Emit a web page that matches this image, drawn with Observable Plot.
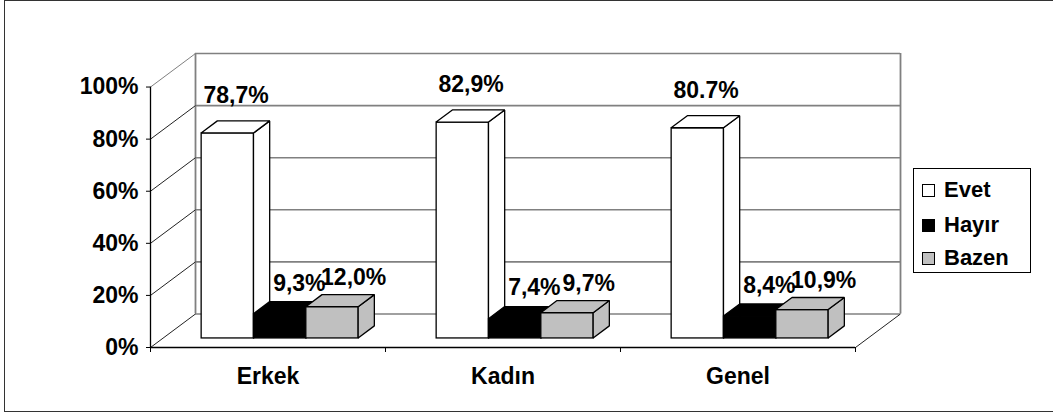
<!DOCTYPE html>
<html>
<head>
<meta charset="utf-8">
<script src="https://cdn.jsdelivr.net/npm/d3@7"></script>
<script src="https://cdn.jsdelivr.net/npm/@observablehq/plot@0.6"></script>
<style>
  html, body { margin: 0; padding: 0; background: #fff; }
  #wrap { position: relative; width: 1053px; height: 416px; overflow: hidden; font-family: "Liberation Sans", Arial, sans-serif; }
  #frame { position: absolute; left: 4px; top: 0px; width: 1100px; height: 410px; border: 1.5px solid #333; border-right: none; box-sizing: content-box; pointer-events: none; }
  #legend { position: absolute; left: 913px; top: 168px; width: 116px; height: 103px; border: 1px solid #000; background: #fff; }
  .row { position: absolute; left: 8px; height: 24px; display: flex; align-items: center; font-weight: bold; font-size: 22px; color: #000; }
  .sw { width: 11px; height: 11px; border: 1px solid #000; margin-right: 9px; }
</style>
</head>
<body>
<div id="wrap">
  <div id="chart"></div>
  <div id="frame"></div>
  <div id="legend"></div>
</div>
<script>
// ---- data ----
const categories = ["Erkek", "Kadın", "Genel"];
const seriesNames = ["Evet", "Hayır", "Bazen"];
const evet = [78.7, 82.9, 80.7];
const hayir = [9.3, 7.4, 8.4];
const bazen = [12.0, 9.7, 10.9];
const evetLabels = ["78,7%", "82,9%", "80.7%"];
const hayirLabels = ["9,3%", "7,4%", "8,4%"];
const bazenLabels = ["12,0%", "9,7%", "10,9%"];
const yTicks = [0, 20, 40, 60, 80, 100];

// ---- styling / geometry ----
const seriesValues = [evet, hayir, bazen];
const seriesLabels = [evetLabels, hayirLabels, bazenLabels];
const seriesFill = ["#ffffff", "#000000", "#c0c0c0"];
const labelDx = [-8, 3, 5];
const labelDy = [-26, -19, -17];

const DX = 0.1915, DY = 12.88;   // depth offset of back wall (x units, y units)
const F0 = 0.27, F1 = 0.63;      // bar front / back depth fraction
const BAR_W = 0.2227;
const GROUP_OFF = (1 - 3 * BAR_W) / 2;
const N = categories.length;

const marks = [];

// back wall gridlines
marks.push(Plot.ruleY(yTicks, {y: d => d + DY, x1: DX, x2: N + DX, stroke: "#808080", strokeWidth: 1.6}));
// back wall vertical edges
marks.push(Plot.ruleX([DX, N + DX], {y1: DY, y2: 100 + DY, stroke: "#808080", strokeWidth: 1.8}));
// left side wall diagonals
marks.push(Plot.link(yTicks, {x1: 0, y1: d => d, x2: DX, y2: d => d + DY, stroke: d => d === 100 ? "#808080" : "#222", strokeWidth: 1}));
// floor right diagonal
marks.push(Plot.link([N], {x1: d => d, y1: 0, x2: d => d + DX, y2: DY, stroke: "#222", strokeWidth: 1}));
// front floor edge & y axis line
marks.push(Plot.ruleY([0], {x1: 0, x2: N, stroke: "#000", strokeWidth: 1.3}));
marks.push(Plot.ruleX([0], {y1: 0, y2: 100, stroke: "#000", strokeWidth: 1.3}));

// bars: per series front / side / top, drawn left to right
seriesValues.forEach((vals, j) => {
  const fronts = [], sides = [], tops = [];
  vals.forEach((v, i) => {
    const x0 = i + GROUP_OFF + j * BAR_W, x1 = x0 + BAR_W, id = i;
    fronts.push({x1: x0 + F0 * DX, x2: x1 + F0 * DX, y1: F0 * DY, y2: v + F0 * DY});
    sides.push({id, x: x1 + F0 * DX, y1: F0 * DY, y2: v + F0 * DY});
    sides.push({id, x: x1 + F1 * DX, y1: F1 * DY, y2: v + F1 * DY});
    tops.push({id, y: v + F0 * DY, x1: x0 + F0 * DX, x2: x1 + F0 * DX});
    tops.push({id, y: v + F1 * DY, x1: x0 + F1 * DX, x2: x1 + F1 * DX});
  });
  const st = {fill: seriesFill[j], stroke: "#000", strokeWidth: 1.3, strokeLinejoin: "miter"};
  marks.push(Plot.rect(fronts, {x1: "x1", x2: "x2", y1: "y1", y2: "y2", ...st}));
  marks.push(Plot.areaY(sides, {x: "x", y1: "y1", y2: "y2", z: "id", ...st}));
  marks.push(Plot.areaX(tops, {y: "y", x1: "x1", x2: "x2", z: "id", ...st}));
});

// value labels
seriesValues.forEach((vals, j) => {
  const lab = vals.map((v, i) => {
    const x0 = i + GROUP_OFF + j * BAR_W;
    return {x: x0 + BAR_W / 2 + F1 * DX, y: v + F1 * DY, text: seriesLabels[j][i]};
  });
  marks.push(Plot.text(lab, {x: "x", y: "y", text: "text", dx: labelDx[j], dy: labelDy[j],
    fontSize: 23, fontWeight: "bold", fill: "#000", textAnchor: "middle", lineAnchor: "middle"}));
});

// axes
marks.push(Plot.axisY({ticks: yTicks, tickFormat: d => d + "%", tickSize: 4, tickPadding: 8, fontSize: 23, fontWeight: "bold"}));
marks.push(Plot.axisX({ticks: d3.range(N + 1), tickSize: 5, tickFormat: () => ""}));
marks.push(Plot.axisX({ticks: categories.map((c, i) => i + 0.5), tickSize: 0, tickPadding: 20,
  tickFormat: d => categories[Math.floor(d)], fontSize: 23, fontWeight: "bold"}));

const chart = Plot.plot({
  width: 1053,
  height: 416,
  marginLeft: 150,
  marginRight: 153,
  marginTop: 53,
  marginBottom: 69,
  x: {type: "linear", domain: [0, N + DX], axis: null},
  y: {type: "linear", domain: [0, 100 + DY], axis: null},
  style: {fontFamily: "'Liberation Sans', Arial, sans-serif", color: "#000", background: "#fff", overflow: "visible"},
  marks
});
document.getElementById("chart").appendChild(chart);

// legend
const legend = document.getElementById("legend");
const rowTops = [9, 44, 77];
seriesNames.forEach((name, j) => {
  const row = document.createElement("div");
  row.className = "row";
  row.style.top = rowTops[j] + "px";
  const sw = document.createElement("div");
  sw.className = "sw";
  sw.style.background = seriesFill[j];
  row.appendChild(sw);
  row.appendChild(document.createTextNode(name));
  legend.appendChild(row);
});
</script>
</body>
</html>
